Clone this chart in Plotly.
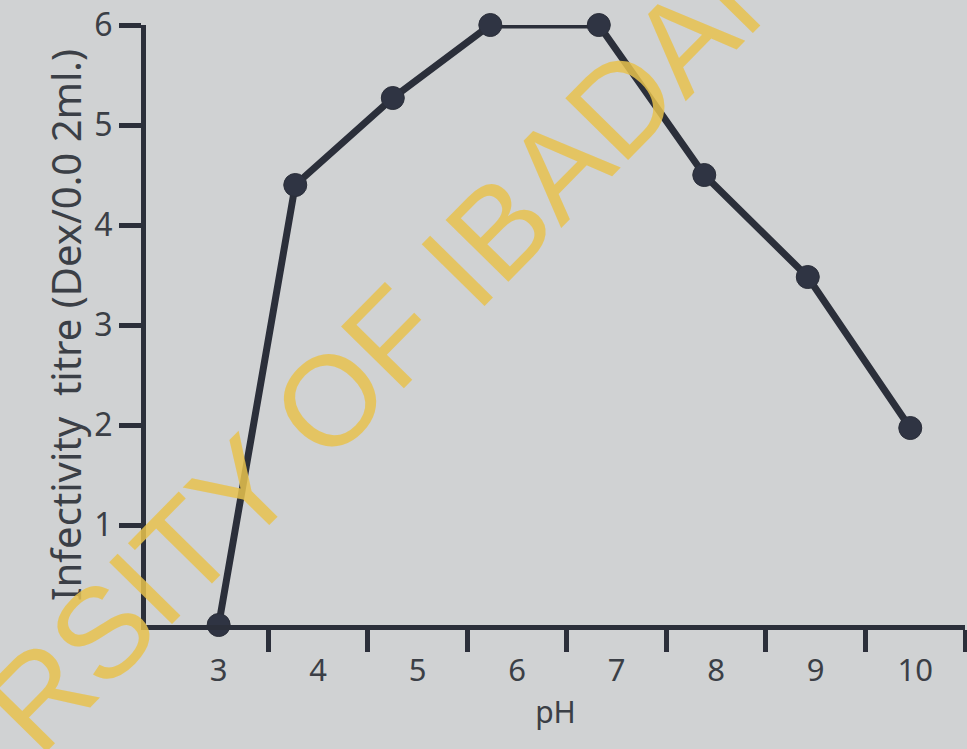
import plotly.graph_objects as go

# Infectivity titre measured across the pH range
ph = [3.0, 3.77, 4.75, 5.73, 6.82, 7.88, 8.92, 9.95]
titre = [0.0, 4.4, 5.27, 6.0, 6.0, 4.5, 3.48, 1.97]

x_labels = [3, 4, 5, 6, 7, 8, 9, 10]
x_minor_ticks = [3.5, 4.5, 5.5, 6.5, 7.5, 8.5, 9.5, 10.5]
y_ticks = [1, 2, 3, 4, 5, 6]

ink = "#2b2f3a"
label_ink = "#3b3f46"
paper = "#d0d2d3"

fig = go.Figure()
fig.add_trace(go.Scatter(
    x=ph, y=titre, mode="lines+markers",
    line=dict(color=ink, width=7),
    marker=dict(color="#2f3443", size=23, line=dict(color=ink, width=1)),
    cliponaxis=False, showlegend=False,
))

fig.update_layout(
    width=967, height=749,
    margin=dict(l=146, r=2, t=25, b=124),
    paper_bgcolor=paper, plot_bgcolor=paper,
    font=dict(family="Noto Sans", color=label_ink),
    xaxis=dict(
        range=[2.27, 10.5], showgrid=False, zeroline=False,
        showline=True, linecolor=ink, linewidth=5,
        tickvals=x_labels, ticktext=[str(v) for v in x_labels],
        ticks="", tickfont=dict(size=31, color=label_ink),
        ticklabelstandoff=14,
        minor=dict(tickvals=x_minor_ticks, ticks="outside", ticklen=22,
                   tickwidth=5, tickcolor=ink, showgrid=False),
        title=dict(text="pH", font=dict(size=30, color=label_ink), standoff=14),
    ),
    yaxis=dict(
        range=[0, 6], showgrid=False, zeroline=False,
        showline=True, linecolor=ink, linewidth=5,
        tickvals=y_ticks, ticks="outside", ticklen=22, tickwidth=5,
        tickcolor=ink, tickfont=dict(size=32, color=label_ink),
        title=dict(text="Infectivity  titre (Dex/0.0 2ml.)",
                   font=dict(size=40, color=label_ink), standoff=2),
    ),
    annotations=[dict(
        text="RSITY OF IBADAN", xref="paper", yref="paper",
        x=0.302, y=0.482, xanchor="center", yanchor="middle",
        showarrow=False, textangle=-45.5,
        font=dict(family="Liberation Sans", size=128,
                  color="rgba(232,194,78,0.85)"),
    )],
)

fig.write_html("out.html")
